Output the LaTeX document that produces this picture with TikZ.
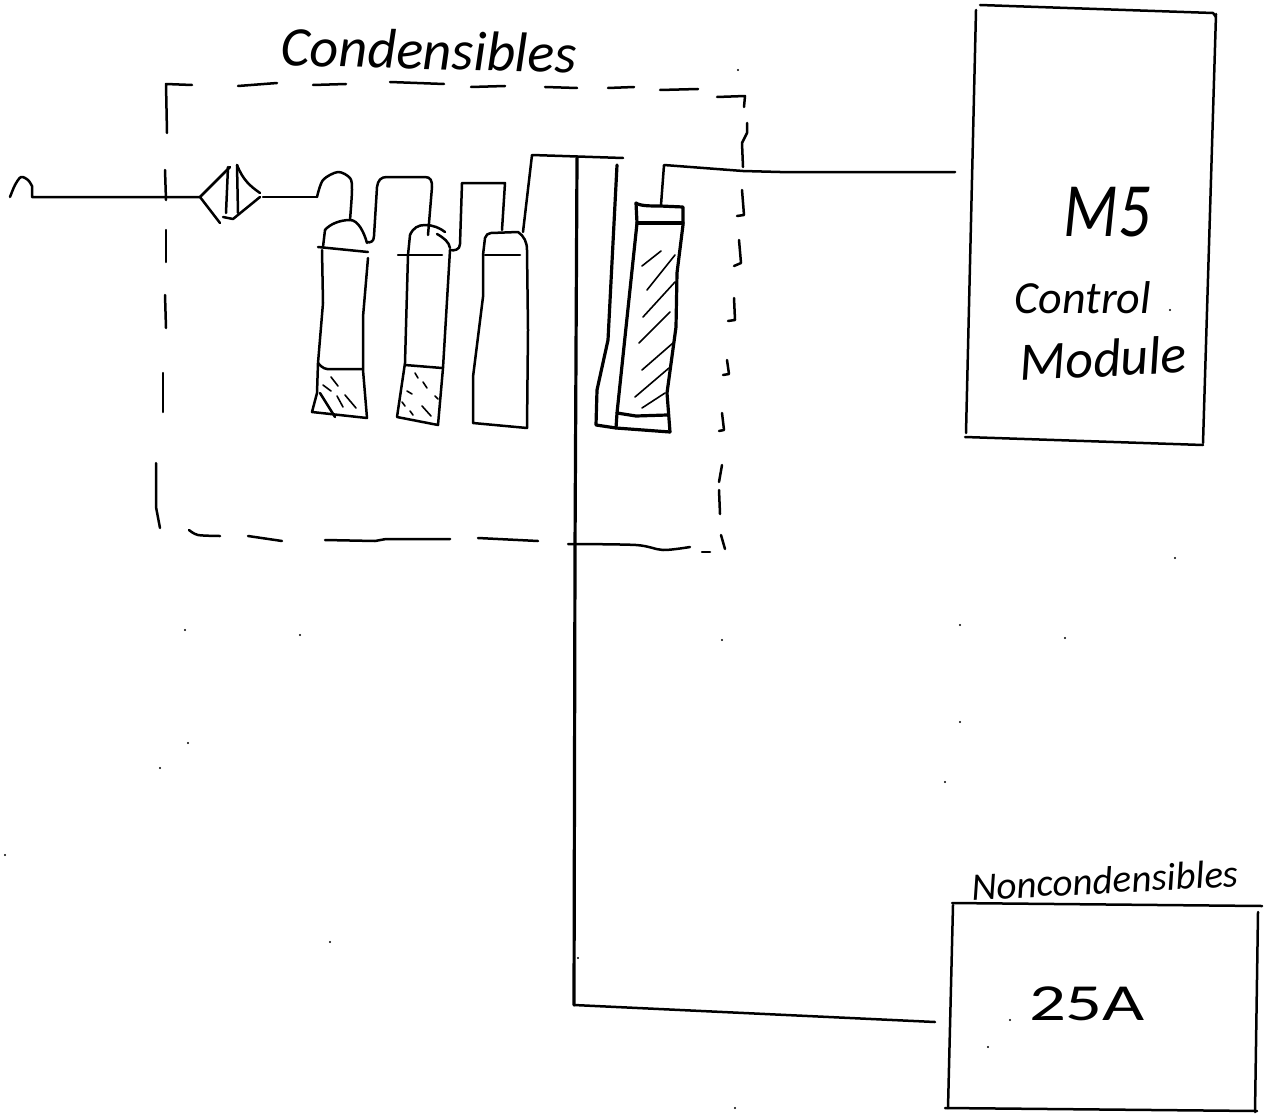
\documentclass[tikz,border=0pt]{standalone}
\usepackage{fontspec}
\setmainfont{Carlito}
\tikzset{
  x=1pt,y=-1pt,
  ink/.style={line width=2.5pt,line cap=round,line join=round,black},
  heavy ink/.style={line width=3.2pt,line cap=round,line join=round,black},
  hatch/.style={line width=1.6pt,line cap=round,black},
  hand/.style={inner sep=0pt,outer sep=0pt,font=\itshape,black},
  print/.style={inner sep=0pt,outer sep=0pt,black},
  speck/.style={fill=black,draw=none}
}
\newcommand{\hfs}[1]{\fontsize{#1}{#1}\selectfont}
\begin{document}
\begin{tikzpicture}
\useasboundingbox (0,0) rectangle (1268,1113);
\fill[white] (0,0) rectangle (1268,1113);

% named connection points
\coordinate (m5port) at (955,172);
\coordinate (nc25port) at (935,1022);
\coordinate (tube1in) at (350,220);
\coordinate (tube1out) at (367,242);
\coordinate (tube2in) at (428,235);
\coordinate (tube2out) at (450,250);
\coordinate (tube3in) at (502,230);
\coordinate (tube3out) at (523,232);
\coordinate (tube4out) at (661,205);
\coordinate (filterin) at (200,197);
\coordinate (filterout) at (263,197);
\coordinate (teetop) at (577,158);
\coordinate (teebend) at (574,1005);
\coordinate (boxexit) at (743,171);

% dashed enclosure, hand drawn
\draw[ink] (167,133) -- (166,84) -- (192,85);
\draw[ink] (238,86) -- (277,83);
\draw[ink] (313,85) -- (346,84);
\draw[ink] (390,82) -- (444,84);
\draw[ink] (471,87) -- (505,86);
\draw[ink] (545,87) -- (577,88);
\draw[ink] (608,88) -- (634,87);
\draw[ink] (660,90) -- (698,89);
\draw[ink] (717,97) -- (745,96) -- (744,107);
\draw[ink] (747,123) -- (747,133) -- (742,143) -- (743,167);
\draw[ink] (742,190) -- (744,215) -- (737,216);
\draw[ink] (739,240) -- (741,263) -- (734,266);
\draw[ink] (734,298) -- (735,320) -- (728,321);
\draw[ink] (727,360) -- (729,374) -- (723,375);
\draw[ink] (722,413) -- (724,430) -- (719,431);
\draw[ink] (722,465) -- (719,482);
\draw[ink] (719,490) -- (720,514);
\draw[ink] (721,535) -- (725,549);
\draw[ink] (702,552) -- (710,552);
\draw[ink] plot[smooth,tension=.5] coordinates {(568,544) (636,545) (663,550) (690,547)};
\draw[ink] (478,538) -- (538,541);
\draw[ink] (325,540) -- (375,541) -- (386,539) -- (450,539);
\draw[ink] (248,536) -- (282,541);
\draw[ink] plot[smooth,tension=.5] coordinates {(189,530) (198,535) (220,536)};
\draw[ink] (156,463) -- (156,507) -- (160,528);
\draw[ink] (163,373) -- (163,412);
\draw[ink] (165,295) -- (166,328);
\draw[ink] (166,230) -- (166,262);
\draw[ink] (165,170) -- (166,200);

% inlet
\draw[ink] plot[smooth,tension=.5] coordinates {(10,197) (15,185) (21,177) (28,180) (32,186)} -- (32,197) -- (filterin);

% filter
\draw[ink] (230,167) -- (filterin) -- (220,223);
\draw[ink] (228,167) -- (226,213);
\draw[ink] (237,165) -- (238,213);
\draw[ink] (237,165) .. controls (243,180) and (250,186) .. (260,193);
\draw[ink] (260,197) -- (233,219) -- (223,217);
\draw[ink] (filterout) -- (317,197);

% tube 1
\draw[ink] plot[smooth,tension=.5] coordinates {(317,197) (323,180) (338,172) (350,178) (352,190) (tube1in)};
\draw[ink] (323,247) -- (325,230) .. controls (330,224) and (340,220) .. (tube1in) .. controls (358,220) and (364,232) .. (367,243);
\draw[ink] (318,247) -- (368,252);
\draw[ink] (322,250) -- (323,303) -- (318,363) -- (317,393) -- (312,412) -- (367,418) -- (363,370) -- (363,317) -- (368,258);
\draw[ink] (318,363) .. controls (322,368) and (326,370) .. (332,369) -- (362,369);
\draw[ink] (320,393) -- (335,417);
\draw[hatch] (331,377) -- (338,386);
\draw[hatch] (345,395) -- (356,408);
\draw[hatch] (337,396) -- (343,407);
\draw[hatch] (323,385) -- (331,391);

% connector 1-2
\draw[ink] (tube1out) .. controls (370,243) and (374,242) .. (374,236) -- (377,187) .. controls (378,180) and (381,177) .. (387,177) -- (425,177) .. controls (431,177) and (432,181) .. (432,187) -- (tube2in);

% tube 2
\draw[ink] (408,255) -- (410,235) .. controls (413,228) and (418,225) .. (425,225) .. controls (433,225) and (440,228) .. (445,232);
\draw[ink] (437,234) .. controls (444,238) and (449,242) .. (450,248);
\draw[ink] (398,255) -- (442,255);
\draw[ink] (408,255) -- (405,363) -- (397,417) -- (438,425) -- (443,368) -- (450,250);
\draw[ink] (405,365) -- (442,368);
\draw[hatch] (415,373) -- (418,378);
\draw[hatch] (423,382) -- (427,388);
\draw[hatch] (407,391) -- (412,394);
\draw[hatch] (435,396) -- (438,399);
\draw[hatch] (402,402) -- (405,406);
\draw[hatch] (422,406) -- (431,416);
\draw[hatch] (410,411) -- (413,415);

% connector 2-3
\draw[ink] (tube2out) .. controls (454,251) and (460,250) .. (460,244) -- (462,183) -- (505,183) -- (tube3in);

% tube 3
\draw[ink] (483,255) -- (485,238) .. controls (486,235) and (488,233) .. (491,233) -- (518,232) .. controls (524,236) and (527,242) .. (527,250) -- (528,330) -- (527,428) -- (473,423) -- (473,377) -- (483,297) -- cycle;
\draw[ink] (485,255) -- (520,255);

% riser and long line to the 25A
\draw[ink] (tube3out) -- (532,155) -- (623,158);
\draw[heavy ink] (teetop) -- (575,550) -- (teebend);
\draw[ink] (teebend) -- (nc25port);

% second riser
\draw[heavy ink] (617,165) -- (608,340) -- (597,390) -- (596,425) -- (616,428) -- (670,432);

% tube 4
\draw[heavy ink] (636,203) -- (637,223) -- (617,413) -- (616,428);
\draw[heavy ink] (636,203) .. controls (640,206) and (650,206) .. (660,206) -- (683,207) -- (683,225) -- (677,273) -- (676,327) -- (667,393) -- (670,432);
\draw[heavy ink] (637,223) -- (683,223);
\draw[heavy ink] (617,413) -- (636,416) -- (667,415);
\draw[hatch] (642,266) -- (661,251);
\draw[hatch] (647,290) -- (675,255);
\draw[hatch] (643,317) -- (675,282);
\draw[hatch] (639,343) -- (670,312);
\draw[hatch] (642,370) -- (673,343);
\draw[hatch] (635,397) -- (669,368);
\draw[hatch] (642,408) -- (665,393);

% outlet to M5
\draw[ink] (tube4out) -- (664,165) -- (boxexit) -- (780,172) -- (m5port);

% M5 box
\draw[ink] (980,5) -- (1213,13) -- (1216,17);
\draw[ink] (1216,14) -- (1203,443);
\draw[ink] (965,437) -- (1203,445);
\draw[ink] (976,10) -- (966,433);
\node[hand,anchor=center,yscale=1.2] (m5label) at (1107,212) {\hfs{64}M5};
\node[hand,anchor=center] (controllabel) at (1083,298) {\hfs{46}Control};
\node[hand,anchor=center,rotate=3] (modulelabel) at (1103,358) {\hfs{54}Module};

% 25A box
\draw[ink] (952,903) -- (1262,906);
\draw[ink] (953,905) -- (948,1108);
\draw[ink] (945,1108) -- (1257,1111);
\draw[ink] (1258,912) -- (1255,1112);
\node[hand,anchor=center,rotate=3] (nonclabel) at (1105,880) {\hfs{39}Noncondensibles};
\node[print,anchor=center,xscale=1.4] (amlabel) at (1087,1004) {\hfs{52}25A};

% Condensibles label
\node[hand,anchor=center,rotate=-1.5] (condlabel) at (429,50) {\hfs{56}Condensibles};

% scan specks
\foreach \p in {(738,70),(185,630),(300,635),(722,640),(960,625),(960,722),(1175,558),(945,782),(160,768),(188,743),(5,855),(330,942),(578,958),(988,1047),(735,1108),(1065,638),(1010,1020),(1170,310)}
  \fill[speck] \p circle (1.2pt);
\end{tikzpicture}
\end{document}
